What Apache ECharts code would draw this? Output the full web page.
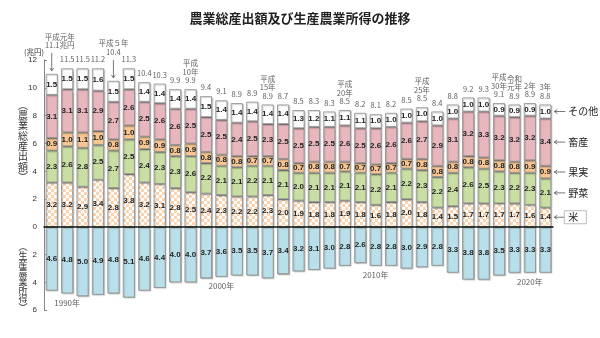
<!DOCTYPE html>
<html>
<head>
<meta charset="utf-8">
<script src="https://cdn.jsdelivr.net/npm/echarts@6/dist/echarts.min.js"></script>
<style>
  html, body { margin: 0; padding: 0; background: #fff; }
  #chart { width: 600px; height: 338px; }
</style>
</head>
<body>
<div id="chart"></div>
<script>
// 年次（1989〜2021年）
const years = ['1989','1990','1991','1992','1993','1994','1995','1996','1997','1998',
  '1999','2000','2001','2002','2003','2004','2005','2006','2007','2008',
  '2009','2010','2011','2012','2013','2014','2015','2016','2017','2018',
  '2019','2020','2021'];

// 農業総産出額の内訳（兆円）
const rice       = [3.2,3.2,2.9,3.4,2.8,3.8,3.2,3.1,2.8,2.5, 2.4,2.3,2.2,2.2,2.3,2.0,1.9,1.8,1.8,1.9, 1.8,1.6,1.8,2.0,1.8,1.4,1.5,1.7,1.7,1.7, 1.7,1.6,1.4];
const vegetables = [2.3,2.6,2.8,2.5,2.7,2.5,2.4,2.3,2.3,2.6, 2.2,2.1,2.1,2.2,2.1,2.1,2.0,2.1,2.1,2.1, 2.1,2.2,2.1,2.2,2.3,2.2,2.4,2.6,2.5,2.3, 2.2,2.3,2.1];
const fruit      = [0.9,1.0,1.1,1.0,0.8,1.0,0.9,0.9,0.8,0.9, 0.8,0.8,0.8,0.7,0.7,0.8,0.7,0.8,0.8,0.7, 0.7,0.7,0.7,0.7,0.8,0.8,0.8,0.8,0.8,0.8, 0.8,0.9,0.9];
const livestock  = [3.1,3.1,3.1,2.9,2.7,2.6,2.5,2.6,2.6,2.5, 2.5,2.5,2.4,2.5,2.3,2.5,2.5,2.5,2.5,2.6, 2.5,2.6,2.6,2.6,2.7,2.9,3.1,3.2,3.3,3.2, 3.2,3.2,3.4];
const others     = [1.5,1.5,1.5,1.6,1.5,1.5,1.4,1.4,1.4,1.4, 1.5,1.4,1.4,1.4,1.4,1.4,1.3,1.2,1.1,1.1, 1.1,1.0,1.0,1.0,1.0,1.0,1.0,1.0,1.0,0.9, 0.9,0.9,1.0];

// 農業総産出額の合計（兆円）
const totals = [11.1,11.5,11.5,11.2,10.4,11.3,10.4,10.3,9.9,9.9, 9.4,9.1,8.9,8.9,8.9,8.7,8.5,8.3,8.3,8.5, 8.2,8.1,8.2,8.5,8.5,8.4,8.8,9.2,9.3,9.1, 8.9,8.9,8.8];

// 生産農業所得（兆円）
const income = [4.6,4.8,5.0,4.9,4.8,5.1,4.6,4.4,4.0,4.0, 3.7,3.6,3.5,3.5,3.7,3.4,3.2,3.1,3.0,2.8, 2.6,2.8,2.8,3.0,2.9,2.8,3.3,3.8,3.8,3.5, 3.3,3.3,3.3];

// 和暦の注記
const eraNotes = {
  0: '平成元年', 4: '平成５年', 9: '平成\n10年', 14: '平成\n15年', 19: '平成\n20年',
  24: '平成\n25年', 29: '平成\n30年', 30: '令和\n元年', 31: '2年', 32: '3年'
};
// 西暦の目印
const decadeLabels = { 1: '1990年', 11: '2000年', 21: '2010年', 31: '2020年' };

const partNames = ['米', '野菜', '果実', '畜産', 'その他'];
const partData = [rice, vegetables, fruit, livestock, others];

const JP = '"Noto Sans CJK JP", sans-serif';
const NUM = '"Liberation Sans", Arial, sans-serif';

// 米の市松模様
function makeChecker() {
  const c = document.createElement('canvas');
  c.width = 6; c.height = 6;
  const ctx = c.getContext('2d');
  ctx.fillStyle = '#ffffff';
  ctx.fillRect(0, 0, 6, 6);
  ctx.fillStyle = '#fbd3ad';
  ctx.fillRect(0, 0, 3, 3);
  ctx.fillRect(3, 3, 3, 3);
  return c;
}
const partColors = [
  { image: makeChecker(), repeat: 'repeat' },
  '#c8dea2', '#f9c692', '#e8b7bd', '#ffffff'
];

const barStyle = {
  borderColor: '#8a8a8a', borderWidth: 0.8,
  shadowColor: 'rgba(0,0,0,0.22)', shadowOffsetX: 1, shadowOffsetY: 1, shadowBlur: 1
};
const innerLabel = {
  show: true, position: 'inside', fontSize: 8, fontWeight: 'bold',
  fontFamily: NUM, color: '#222',
  formatter: p => Number(p.value).toFixed(1)
};

const stackTops = years.map((_, i) => partData.reduce((s, arr) => s + arr[i], 0));

const series = partData.map((arr, k) => ({
  name: partNames[k], type: 'bar', stack: 'output',
  xAxisIndex: 0, yAxisIndex: 0, barWidth: 12,
  itemStyle: Object.assign({ color: partColors[k] }, barStyle),
  label: innerLabel,
  emphasis: { disabled: true },
  data: arr
}));

// 合計値と和暦の注記
series.push({
  type: 'scatter', xAxisIndex: 0, yAxisIndex: 0, symbolSize: 1,
  itemStyle: { color: 'rgba(0,0,0,0)' }, silent: true, z: 5,
  label: {
    show: true, position: 'top', distance: 4, fontSize: 7.5, lineHeight: 8.5,
    fontFamily: JP, color: '#333', align: 'center',
    formatter: p => {
      const i = p.dataIndex;
      const t = i === 0 ? totals[i].toFixed(1) + '兆円' : totals[i].toFixed(1);
      return eraNotes[i] ? eraNotes[i] + '\n' + t : t;
    }
  },
  data: years.map((y, i) => {
    const d = { value: [y, stackTops[i]] };
    if (i === 0) d.label = { distance: 24, offset: [8, 0] };
    if (i === 4) d.label = { distance: 24 };
    return d;
  })
});

// 生産農業所得
series.push({
  name: '生産農業所得', type: 'bar', xAxisIndex: 1, yAxisIndex: 1, barWidth: 12,
  itemStyle: Object.assign({ color: '#b9e0ea' }, barStyle),
  label: innerLabel,
  emphasis: { disabled: true },
  data: income
});

// 西暦の目印
series.push({
  type: 'scatter', xAxisIndex: 1, yAxisIndex: 1, symbolSize: 1,
  itemStyle: { color: 'rgba(0,0,0,0)' }, silent: true,
  label: {
    show: true, position: 'bottom', distance: 5, fontSize: 8,
    fontFamily: JP, color: '#333',
    formatter: p => decadeLabels[p.data.idx]
  },
  data: Object.keys(decadeLabels).map(k => ({ value: [years[+k], income[+k]], idx: +k }))
});

const option = {
  animation: false,
  backgroundColor: '#ffffff',
  title: {
    text: '農業総産出額及び生産農業所得の推移',
    left: 'center', top: 7,
    textStyle: { fontFamily: JP, fontSize: 13, fontWeight: 'bold', color: '#222' }
  },
  grid: [
    { left: 44, right: 47, top: 60, height: 167 },
    { left: 44, right: 47, top: 227, height: 83 }
  ],
  xAxis: [
    { type: 'category', gridIndex: 0, data: years, position: 'bottom',
      axisLine: { show: true, lineStyle: { color: '#111', width: 1.5 } },
      axisTick: { show: false }, axisLabel: { show: false }, z: 10 },
    { type: 'category', gridIndex: 1, data: years, position: 'top',
      axisLine: { show: false }, axisTick: { show: false }, axisLabel: { show: false } }
  ],
  yAxis: [
    { type: 'value', gridIndex: 0, min: 0, max: 12, interval: 2,
      axisLine: { show: true, lineStyle: { color: '#888' } },
      axisTick: { show: true, inside: true, length: 3, lineStyle: { color: '#888' } },
      axisLabel: { fontSize: 8, color: '#333', fontFamily: NUM, margin: 7 },
      splitLine: { show: false } },
    { type: 'value', gridIndex: 1, min: 0, max: 6, interval: 2, inverse: true,
      axisLine: { show: true, lineStyle: { color: '#888' } },
      axisTick: { show: true, inside: true, length: 3, lineStyle: { color: '#888' } },
      axisLabel: { fontSize: 8, color: '#333', fontFamily: NUM, margin: 7,
        formatter: v => (v === 0 ? '' : String(v)) },
      splitLine: { show: false } }
  ],
  series: series
};

const chart = echarts.init(document.getElementById('chart'), null, { renderer: 'canvas' });
chart.setOption(option);

// 注記・凡例などの装飾
const g = [];
const arrowStroke = { stroke: '#555', lineWidth: 0.8 };

// 縦書きの軸見出し（1文字ずつ配置）
function verticalText(chars, cx, cy, size, pitch) {
  const n = chars.length;
  chars.forEach((ch, j) => {
    g.push({ type: 'text', x: cx, y: cy + (j - (n - 1) / 2) * pitch, style: {
      text: ch, fontSize: size, fontFamily: JP, fill: '#333',
      align: 'center', verticalAlign: 'middle' } });
  });
}
verticalText(['︵','農','業','総','産','出','額','︶'], 23, 141, 10, 10.3);
verticalText(['︵','生','産','農','業','所','得','︶'], 23, 277, 9, 8.7);

g.push({ type: 'text', x: 34, y: 52, style: {
  text: '(兆円)', fontSize: 7.5, fontFamily: JP, fill: '#333', align: 'center', verticalAlign: 'middle' } });

// 平成元年・平成5年の下向き矢印
[0, 4].forEach(i => {
  const [px, py] = chart.convertToPixel({ xAxisIndex: 0, yAxisIndex: 0 }, [years[i], stackTops[i]]);
  const top = py - 21, bottom = py - 3;
  g.push({ type: 'line', shape: { x1: px, y1: top, x2: px, y2: bottom }, style: arrowStroke });
  g.push({ type: 'polyline', shape: { points: [[px - 2, bottom - 3], [px, bottom], [px + 2, bottom - 3]] },
    style: arrowStroke });
});

// 右側の品目名
const last = years.length - 1;
let base = 0;
partData.forEach((arr, k) => {
  const mid = base + arr[last] / 2;
  base += arr[last];
  const [px, py] = chart.convertToPixel({ xAxisIndex: 0, yAxisIndex: 0 }, [years[last], mid]);
  const x0 = px + 9, x1 = px + 20;
  g.push({ type: 'line', shape: { x1: x0, y1: py, x2: x1, y2: py }, style: arrowStroke });
  g.push({ type: 'polyline', shape: { points: [[x0 + 3, py - 2], [x0, py], [x0 + 3, py + 2]] },
    style: arrowStroke });
  if (k === 0) {
    g.push({ type: 'rect', shape: { x: x1 - 1, y: py - 6.5, width: 22, height: 13 },
      style: { fill: '#fff', stroke: '#aaa', lineWidth: 0.8 } });
  }
  g.push({ type: 'text', x: x1 + 3, y: py, z: 10, style: {
    text: partNames[k], fontSize: 10, fontFamily: JP, fill: '#222',
    align: 'left', verticalAlign: 'middle' } });
});

chart.setOption({ graphic: g });
</script>
</body>
</html>
